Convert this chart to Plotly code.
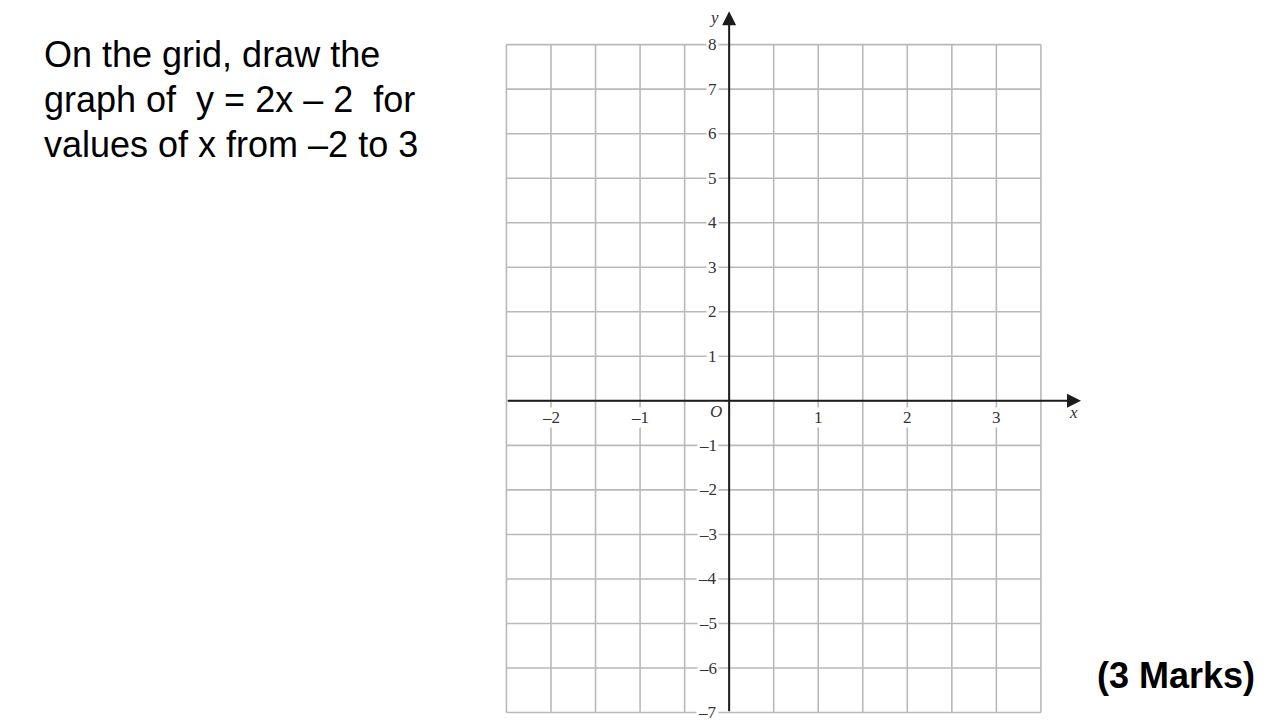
import plotly.graph_objects as go

# ---- data (axes / grid definition) ----
grid_x = [-2.5, -2.0, -1.5, -1.0, -0.5, 0.0, 0.5, 1.0, 1.5, 2.0, 2.5, 3.0, 3.5]
grid_y = [-7, -6, -5, -4, -3, -2, -1, 0, 1, 2, 3, 4, 5, 6, 7, 8]
x_tick_vals = [-2, -1, 1, 2, 3]
x_tick_text = ["–2", "–1", "1", "2", "3"]
y_tick_vals = [8, 7, 6, 5, 4, 3, 2, 1, -1, -2, -3, -4, -5, -6, -7]
y_tick_text = ["8", "7", "6", "5", "4", "3", "2", "1", "–1", "–2", "–3", "–4", "–5", "–6", "–7"]
question_lines = ["On the grid, draw the", "graph of  y = 2x – 2  for", "values of x from –2 to 3"]
marks_text = "(3 Marks)"

X_RANGE = [-2.55, 3.95]
Y_RANGE = [-7.1, 8.8]
OFF = 8  # page body margin of the browser
W, H = 1280, 720
ML, MT = 502 - OFF, 9 - OFF
PW, PH = 579, 708
MR, MB = W - ML - PW, H - MT - PH

def px_x(px):
    return (px - OFF - ML) / PW

def px_y(py):
    return (MT + PH - (py - OFF)) / PH

GRID_COL = "#b9b9b9"
AXIS_COL = "#1c1c1c"
LABEL_COL = "#333333"
SERIF = "Liberation Serif, Times New Roman, serif"
SANS = "Liberation Sans, Arial, sans-serif"

fig = go.Figure()
fig.add_trace(go.Scatter(x=[None], y=[None], mode="lines", showlegend=False, hoverinfo="skip"))

shapes = []
for gx in grid_x:
    shapes.append(dict(type="line", xref="x", yref="y", x0=gx, x1=gx, y0=min(grid_y), y1=max(grid_y),
                       line=dict(color=GRID_COL, width=1.6), layer="below"))
for gy in grid_y:
    shapes.append(dict(type="line", xref="x", yref="y", x0=min(grid_x), x1=max(grid_x), y0=gy, y1=gy,
                       line=dict(color=GRID_COL, width=1.6), layer="below"))

annotations = []
# tick labels with white background (interrupting grid lines)
for v, t in zip(x_tick_vals, x_tick_text):
    annotations.append(dict(x=v, y=-0.37, xref="x", yref="y", text=t, showarrow=False,
                            font=dict(family=SERIF, size=17, color=LABEL_COL),
                            bgcolor="white", borderpad=0, xanchor="center", yanchor="middle"))
for v, t in zip(y_tick_vals, y_tick_text):
    annotations.append(dict(x=-0.11, y=v, xref="x", yref="y", text=t, showarrow=False,
                            font=dict(family=SERIF, size=17, color=LABEL_COL),
                            bgcolor="white", borderpad=1, xanchor="right", yanchor="middle"))
annotations.append(dict(x=-0.15, y=-0.25, xref="x", yref="y", text="<i>O</i>", showarrow=False,
                        font=dict(family=SERIF, size=17, color=LABEL_COL), bgcolor="white",
                        xanchor="center", yanchor="middle"))
annotations.append(dict(x=-0.17, y=8.62, xref="x", yref="y", text="<i>y</i>", showarrow=False,
                        font=dict(family=SERIF, size=17, color=LABEL_COL),
                        xanchor="center", yanchor="middle"))
annotations.append(dict(x=3.87, y=-0.27, xref="x", yref="y", text="<i>x</i>", showarrow=False,
                        font=dict(family=SERIF, size=17, color=LABEL_COL),
                        xanchor="center", yanchor="middle"))

# axes with arrowheads
annotations.append(dict(x=3.95, y=0, ax=min(grid_x), ay=0, xref="x", yref="y", axref="x", ayref="y",
                        text="", showarrow=True, arrowhead=2, arrowsize=1.4, arrowwidth=2,
                        arrowcolor=AXIS_COL))
annotations.append(dict(x=0, y=8.75, ax=0, ay=min(grid_y), xref="x", yref="y", axref="x", ayref="y",
                        text="", showarrow=True, arrowhead=2, arrowsize=1.4, arrowwidth=2,
                        arrowcolor=AXIS_COL))

# question text
for i, line in enumerate(question_lines):
    annotations.append(dict(x=px_x(42), y=px_y(54 + 45 * i), xref="paper", yref="paper", text=line,
                            showarrow=False, font=dict(family=SANS, size=36, color="black"),
                            xanchor="left", yanchor="middle"))
annotations.append(dict(x=px_x(1257), y=px_y(675), xref="paper", yref="paper", text="<b>" + marks_text + "</b>",
                        showarrow=False, font=dict(family=SANS, size=36, color="black"),
                        xanchor="right", yanchor="middle"))

fig.update_layout(
    width=W, height=H,
    margin=dict(l=ML, r=MR, t=MT, b=MB, autoexpand=False),
    paper_bgcolor="white", plot_bgcolor="white",
    xaxis=dict(range=X_RANGE, visible=False, showgrid=False, zeroline=False, fixedrange=True),
    yaxis=dict(range=Y_RANGE, visible=False, showgrid=False, zeroline=False, fixedrange=True),
    shapes=shapes, annotations=annotations, showlegend=False,
)

fig.write_html("out.html")
